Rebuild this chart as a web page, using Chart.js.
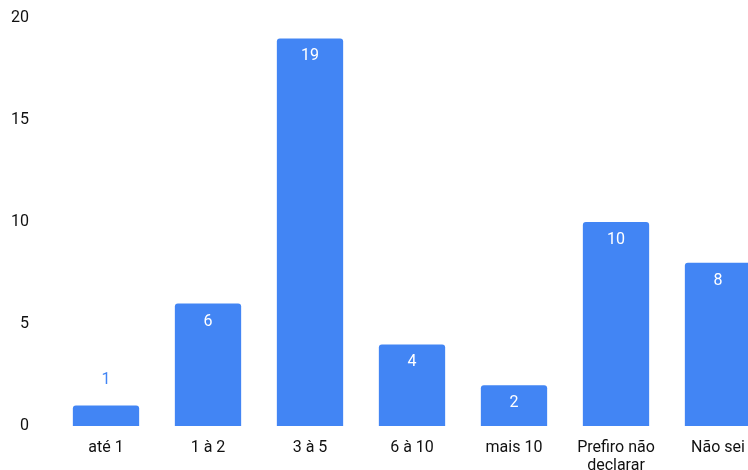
<!DOCTYPE html>
<html>
<head>
<meta charset="utf-8">
<script src="https://cdn.jsdelivr.net/npm/chart.js@4/dist/chart.umd.min.js"></script>
<style>
  html, body { margin: 0; padding: 0; background: #fff; overflow: hidden; }
  #wrap { width: 769px; height: 470px; }
</style>
</head>
<body>
<div id="wrap"><canvas id="chart"></canvas></div>
<script>
const categories = ['até 1', '1 à 2', '3 à 5', '6 à 10', 'mais 10', ['Prefiro não', 'declarar'], 'Não sei'];
const counts = [1, 6, 19, 4, 2, 10, 8];
const yTicks = [0, 5, 10, 15, 20];

const barColor = '#4285F4';

// value labels: inside the bar top, or above it when the bar is too short
const valueLabels = {
    id: 'valueLabels',
    afterDatasetsDraw(chart) {
        const ctx = chart.ctx;
        const meta = chart.getDatasetMeta(0);
        ctx.save();
        ctx.font = '16px Roboto';
        ctx.textAlign = 'center';
        ctx.textBaseline = 'middle';
        meta.data.forEach((bar, i) => {
            const h = bar.base - bar.y;
            if (h < 30) {
                ctx.fillStyle = barColor;
                ctx.fillText(String(counts[i]), bar.x, bar.y - 26);
            } else {
                ctx.fillStyle = '#ffffff';
                ctx.fillText(String(counts[i]), bar.x, bar.y + 18);
            }
        });
        ctx.restore();
    }
};

new Chart(document.getElementById('chart').getContext('2d'), {
    type: 'bar',
    data: {
        labels: categories,
        datasets: [{
            data: counts,
            backgroundColor: barColor,
            borderRadius: 3,
            barPercentage: 0.65,
            categoryPercentage: 1
        }]
    },
    options: {
        responsive: true,
        maintainAspectRatio: false,
        animation: false,
        layout: { padding: { top: 18, left: 0, right: 0, bottom: 0 } },
        plugins: {
            legend: { display: false },
            tooltip: { enabled: false }
        },
        scales: {
            x: {
                grid: { display: false },
                border: { display: false },
                ticks: {
                    color: '#111111',
                    font: { family: 'Roboto', size: 16, lineHeight: 1.12 },
                    padding: 5,
                    maxRotation: 0,
                    autoSkip: false
                },
                afterFit(scale) {
                    scale.height = 44;
                    scale.paddingLeft = 0;
                    scale.paddingRight = 0;
                }
            },
            y: {
                min: yTicks[0],
                max: yTicks[yTicks.length - 1],
                grid: { display: false },
                border: { display: false },
                afterBuildTicks(scale) { scale.ticks = yTicks.map(v => ({ value: v })); },
                ticks: {
                    color: '#111111',
                    font: { family: 'Roboto', size: 16 },
                    padding: 18
                },
                afterFit(scale) {
                    scale.width = 55;
                    scale.paddingTop = 0;
                    scale.paddingBottom = 0;
                }
            }
        }
    },
    plugins: [valueLabels]
});
</script>
</body>
</html>
